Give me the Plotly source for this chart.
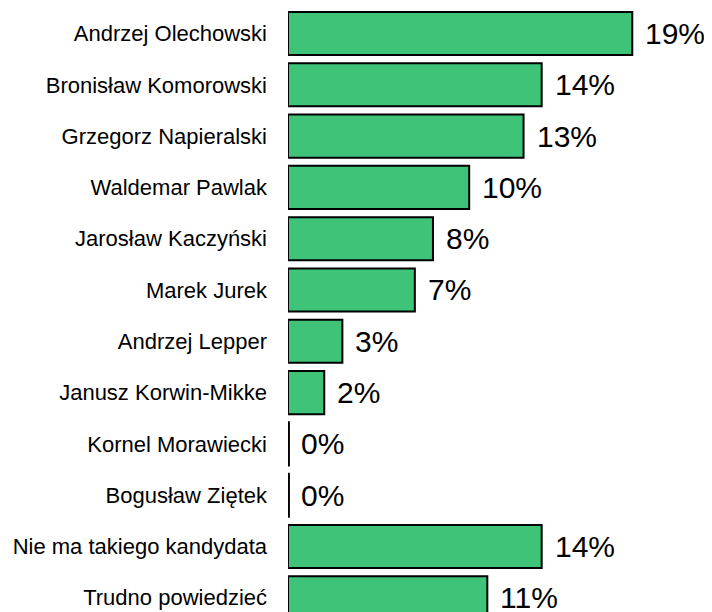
import plotly.graph_objects as go

candidates = ["Andrzej Olechowski", "Bronisław Komorowski", "Grzegorz Napieralski",
              "Waldemar Pawlak", "Jarosław Kaczyński", "Marek Jurek", "Andrzej Lepper",
              "Janusz Korwin-Mikke", "Kornel Morawiecki", "Bogusław Ziętek",
              "Nie ma takiego kandydata", "Trudno powiedzieć"]
support = [19, 14, 13, 10, 8, 7, 3, 2, 0, 0, 14, 11]
labels = [f"{v}%" for v in support]

# zero bars still get a visible outline
drawn = [v if v > 0 else 0.05 for v in support]

fig = go.Figure()
fig.add_trace(go.Bar(
    x=drawn, y=candidates, orientation="h",
    marker=dict(color="#3ec378", line=dict(color="black", width=2)),
    width=0.84, hoverinfo="skip",
))

for c, v, t in zip(candidates, support, labels):
    fig.add_annotation(x=v, y=c, text=t, showarrow=False, xanchor="left",
                       xshift=11, font=dict(size=30, color="black",
                                            family="Liberation Sans, Arial"))

# page body adds an 8px margin, so the figure is a bit smaller than the window
fig.update_layout(
    width=704, height=604,
    margin=dict(l=280, r=0, t=0, b=0),
    plot_bgcolor="white", paper_bgcolor="white",
    showlegend=False,
    font=dict(family="Liberation Sans, Arial", color="black"),
    xaxis=dict(range=[0, 23.4], visible=False),
    yaxis=dict(range=[11.277, -0.497], showgrid=False, zeroline=False,
               showline=False, ticks="", ticklabelstandoff=20,
               tickfont=dict(size=22, color="black")),
)

fig.write_html("out.html")
